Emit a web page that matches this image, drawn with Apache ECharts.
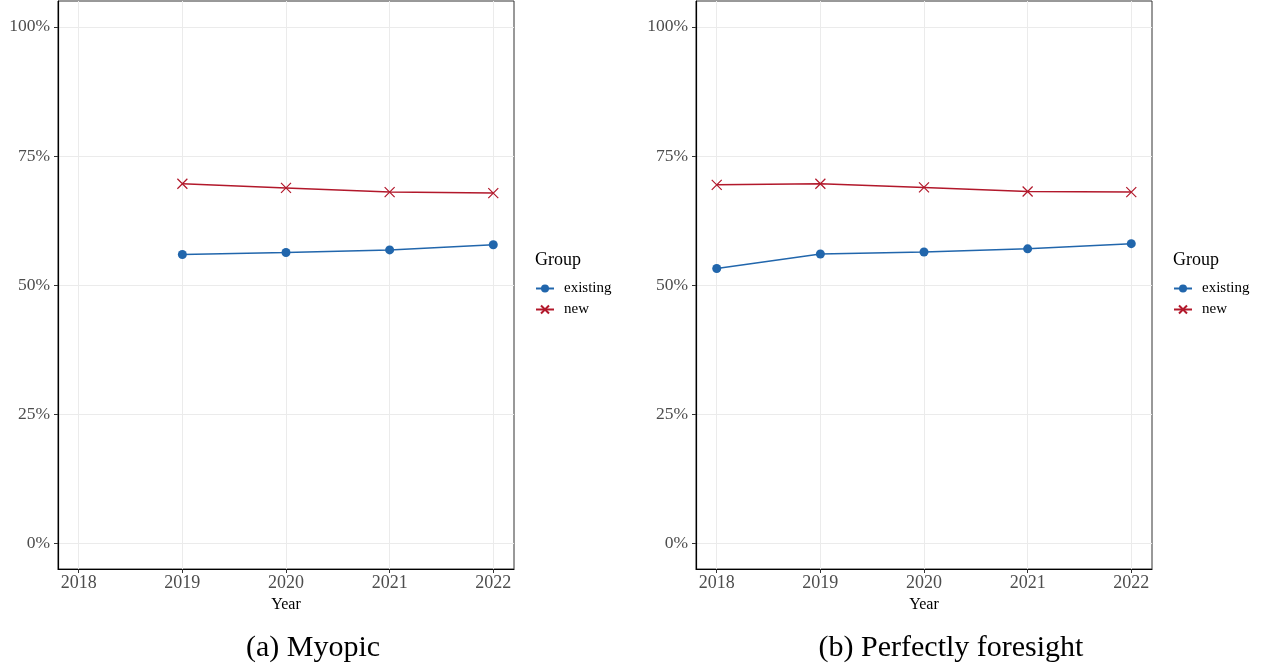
<!DOCTYPE html>
<html><head><meta charset="utf-8">
<script src="https://cdn.jsdelivr.net/npm/echarts@6/dist/echarts.min.js"></script>
<style>html,body{margin:0;padding:0;background:#fff}#c{width:1261px;height:669px}</style>
</head><body><div id="c"></div>
<script>
const years = [2018, 2019, 2020, 2021, 2022];
const yTicks = [0, 25, 50, 75, 100];
const myopicExisting = [null, 55.9, 56.3, 56.8, 57.8];
const myopicNew = [null, 69.6, 68.8, 68.0, 67.8];
const foresightExisting = [53.2, 56.0, 56.4, 57.0, 58.0];
const foresightNew = [69.4, 69.6, 68.9, 68.1, 68.0];
const groupNames = ['existing', 'new'];
const captions = ['(a) Myopic', '(b) Perfectly foresight'];
const legendTitle = 'Group';

const BLUE = '#2166AC', RED = '#B2182B';
const SERIF = 'Liberation Serif';
const CROSS = 'path://M0,0L10,10M10,0L0,10';

function pairs(vals) {
  const out = [];
  vals.forEach((v, i) => { if (v !== null) out.push([years[i], v]); });
  return out;
}

const panels = [
  { left: 58, ex: myopicExisting, nw: myopicNew, caption: captions[0] },
  { left: 696, ex: foresightExisting, nw: foresightNew, caption: captions[1] }
];
const W = 456;

const grid = [], xAxis = [], yAxis = [], series = [], legend = [], graphic = [];
panels.forEach((p, i) => {
  grid.push({ left: p.left, top: 1, width: W, height: 568, show: true, borderColor: '#333', borderWidth: 1, backgroundColor: 'transparent' });
  xAxis.push({
    type: 'value', gridIndex: i, min: 2017.8, max: 2022.2,
    axisLine: { show: true, onZero: false, lineStyle: { color: '#000', width: 1.2 } },
    axisTick: { show: true, length: 4, customValues: years, lineStyle: { color: '#333' } },
    axisLabel: { customValues: years, color: '#4D4D4D', fontFamily: SERIF, fontSize: 18, margin: 5, formatter: v => String(v) },
    splitLine: { show: true, lineStyle: { color: '#EBEBEB', width: 1 } },
    name: 'Year', nameLocation: 'middle', nameGap: 22,
    nameTextStyle: { color: '#000', fontFamily: SERIF, fontSize: 16 }
  });
  yAxis.push({
    type: 'value', gridIndex: i, min: -5, max: 105,
    axisLine: { show: true, onZero: false, lineStyle: { color: '#000', width: 1.2 } },
    axisTick: { show: true, length: 4, customValues: yTicks, lineStyle: { color: '#333' } },
    axisLabel: { customValues: yTicks, color: '#4D4D4D', fontFamily: SERIF, fontSize: 17.5, margin: 8, formatter: v => v + '%' },
    splitLine: { show: true, lineStyle: { color: '#EBEBEB', width: 1 } }
  });
  series.push({
    name: groupNames[0], type: 'line', xAxisIndex: i, yAxisIndex: i, data: pairs(p.ex),
    symbol: 'circle', symbolSize: 9, lineStyle: { color: BLUE, width: 1.5 },
    itemStyle: { color: BLUE }, animation: false
  });
  series.push({
    name: groupNames[1], type: 'line', xAxisIndex: i, yAxisIndex: i, data: pairs(p.nw),
    symbol: CROSS, symbolSize: 10, symbolKeepAspect: true, lineStyle: { color: RED, width: 1.5 },
    itemStyle: { color: RED, borderColor: RED, borderWidth: 1.2 }, animation: false
  });
  const lx = p.left + W + 21;
  legend.push({
    data: groupNames, orient: 'vertical', left: lx - 5, top: 276, itemWidth: 18, itemHeight: 10, itemGap: 6,
    selectedMode: false,
    textStyle: { fontFamily: SERIF, fontSize: 15, lineHeight: 15, color: '#000', padding: [0, 0, 0, 5] }
  });
  graphic.push({
    type: 'text', style: { text: legendTitle, x: lx, y: 260, font: '18px "Liberation Serif"', fill: '#000', verticalAlign: 'middle', align: 'left' }
  });
  graphic.push({
    type: 'text', style: { text: p.caption, x: p.left + W / 2 + 27, y: 648, font: '30px "Liberation Serif"', fill: '#000', verticalAlign: 'middle', align: 'center' }
  });
});

const chart = echarts.init(document.getElementById('c'), null, { renderer: 'canvas' });
chart.setOption({ animation: false, grid, xAxis, yAxis, series, legend, graphic });
</script></body></html>
